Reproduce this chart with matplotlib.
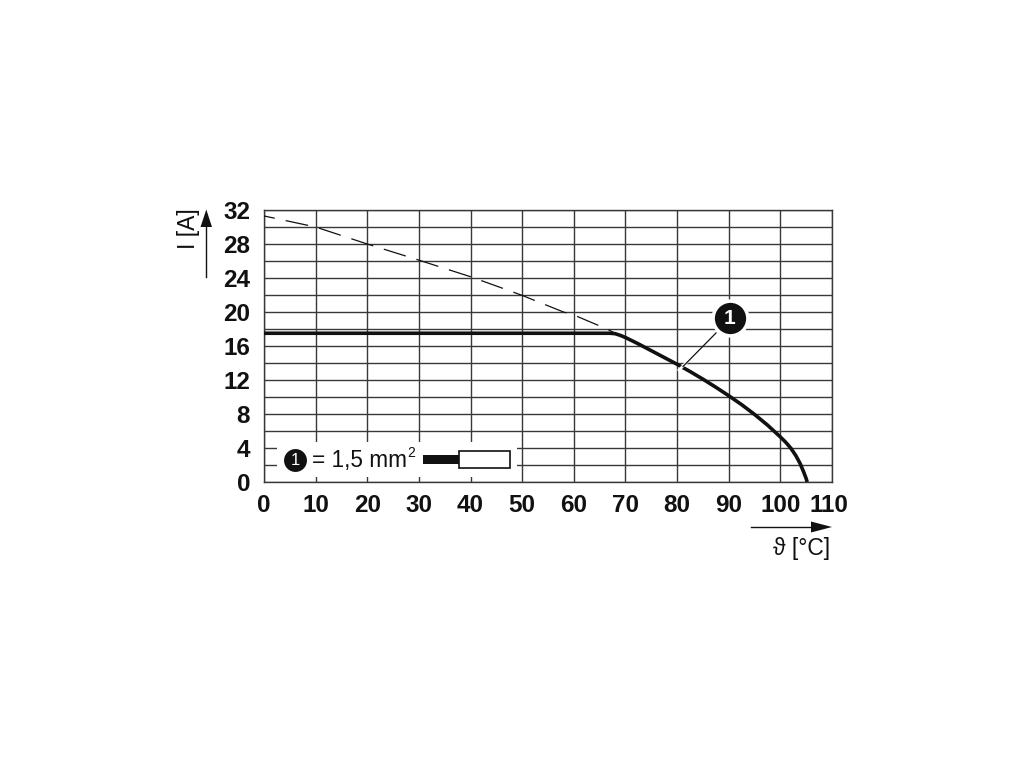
import numpy as np
import matplotlib.pyplot as plt
from matplotlib.patches import Rectangle
from matplotlib.transforms import ScaledTranslation

plt.rcParams['font.family'] = ['Liberation Sans', 'DejaVu Serif']

# dashed curve (wire limit)
dash_x = [0, 10, 20, 30, 40, 48, 50, 58, 60, 66.4, 68]
dash_y = [31.3, 30.0, 28.0, 26.1, 24.15, 22.4, 21.95, 20.0, 19.65, 18.0, 17.5]

# derating curve
temp = [0, 67, 68, 69, 70, 72.5, 75, 77.5, 80, 82.5, 85, 87.5, 90, 92.5, 95, 97.5, 100,
        101, 102, 103, 103.8, 104.5, 105, 105.2]
current = [17.5, 17.5, 17.45, 17.25, 17.0, 16.25, 15.45, 14.65, 13.85, 13.0, 12.1, 11.15, 10.15, 9.1, 7.95, 6.7, 5.3,
           4.7, 4.0, 3.1, 2.2, 1.2, 0.4, 0]

xticks = np.arange(0, 111, 10)
yticks = np.arange(0, 33, 4)
ygrid = np.arange(0, 33, 2)

ink = '#383838'
black = '#111111'

fig = plt.figure(figsize=(10.2, 7.65), dpi=100)
ax = fig.add_axes([264 / 1020, 1 - 482 / 765, 568 / 1020, 272 / 765])
ax.set_xlim(0, 110)
ax.set_ylim(0, 32)
ax.set_xticks(xticks)
ax.set_yticks(yticks)
ax.set_yticks(ygrid, minor=True)
ax.grid(True, which='major', color=ink, lw=1.0)
ax.grid(True, which='minor', axis='y', color=ink, lw=1.0)
ax.tick_params(which='both', length=0)
ax.tick_params(axis='x', pad=9, labelsize=17.5, labelcolor=black)
ax.tick_params(axis='y', pad=10, labelsize=17.5, labelcolor=black)
for lab in ax.get_xticklabels() + ax.get_yticklabels():
    lab.set_fontweight('bold')
for s in ax.spines.values():
    s.set_color(ink)
    s.set_linewidth(1.0)
ax.set_axisbelow(True)

# 110 sits a little to the left of its grid line, clear of 100
last = ax.get_xticklabels()[-1]
last.set_transform(last.get_transform() + ScaledTranslation(-3 / 100, 0, fig.dpi_scale_trans))

ax.plot(dash_x, dash_y, color=black, lw=0.9, linestyle=(9.6, (18.4, 8.9)), zorder=3)
ax.plot(temp, current, color=black, lw=2.6, solid_capstyle='butt', solid_joinstyle='round', zorder=4)


def px(x, y):
    # figure pixels measured from the top left
    return x / 1020, 1 - y / 765


ft = fig.transFigure

# legend box
fig.add_artist(Rectangle(px(277, 477), 240 / 1020, 35 / 765, transform=ft, fc='white', ec='none', zorder=5))
fig.add_artist(plt.Line2D(*zip(px(295, 460)), marker='o', ms=16.5, color=black, mew=0, transform=ft, zorder=6))
fig.text(*px(295, 460.5), '1', color='white', fontsize=12, ha='center', va='center', zorder=7)
fig.text(*px(312.5, 460), '= 1,5 mm', color=black, fontsize=16.3, ha='left', va='center', zorder=7)
fig.text(*px(407, 453), '2', color=black, fontsize=10, ha='left', va='center', zorder=7)
fig.add_artist(Rectangle(px(423, 464), 36 / 1020, 9 / 765, transform=ft, fc=black, ec='none', zorder=6))
fig.add_artist(Rectangle(px(459, 468), 51 / 1020, 17 / 765, transform=ft, fc='white', ec=black, lw=1.2, zorder=6))

# callout
fig.add_artist(plt.Line2D(*zip(px(690, 359), px(679, 370)), color='white', lw=2, transform=ft, zorder=6))
fig.add_artist(plt.Line2D(*zip(px(716, 333), px(683, 366.5)), color=black, lw=0.9, transform=ft, zorder=7))
fig.add_artist(plt.Line2D(*zip(px(730, 318)), marker='o', ms=25, color=black, mec='white', mew=2.5, transform=ft, zorder=7))
fig.text(*px(730, 318.5), '1', color='white', fontsize=15, fontweight='bold', ha='center', va='center', zorder=8)

# axis arrows and labels
fig.add_artist(plt.Line2D(*zip(px(206, 277), px(206, 222)), color=black, lw=1, transform=ft))
fig.add_artist(plt.Polygon([px(200.5, 227), px(212, 227), px(206.3, 209.5)], closed=True, transform=ft, fc=black, ec='none'))
fig.add_artist(plt.Line2D(*zip(px(751, 527), px(815, 527)), color=black, lw=1, transform=ft))
fig.add_artist(plt.Polygon([px(811, 521.5), px(811, 532.5), px(832, 527)], closed=True, transform=ft, fc=black, ec='none'))
fig.text(*px(188, 229), 'I [A]', color=black, fontsize=16.5, rotation=90, ha='center', va='center')
fig.text(*px(830, 548), 'ϑ [°C]', color=black, fontsize=16.5, ha='right', va='center')

fig.savefig('out.png', dpi=100, facecolor='white')
